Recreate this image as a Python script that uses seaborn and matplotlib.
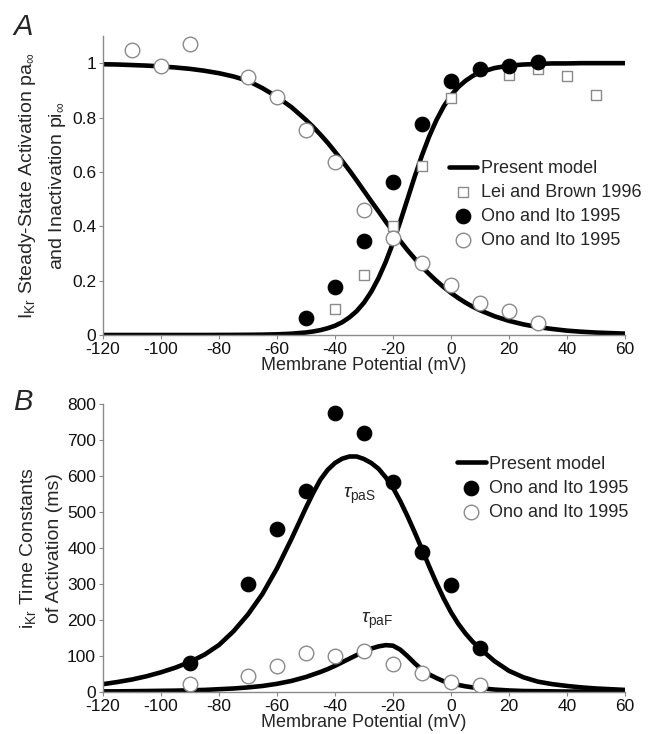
import numpy as np
import matplotlib
matplotlib.use("Agg")
import matplotlib.pyplot as plt
import seaborn as sns

# ---- model voltage grid (read at 5 mV, 2.5 mV around the steep parts) ----
v_model = [-120, -115, -110, -105, -100, -95, -90, -85, -80, -75, -70, -65, -60, -55,
           -50, -47.5, -45, -42.5, -40, -37.5, -35, -32.5, -30, -27.5, -25, -22.5, -20,
           -17.5, -15, -12.5, -10, -7.5, -5, -2.5, 0, 2.5, 5, 7.5, 10,
           15, 20, 25, 30, 35, 40, 45, 50, 55, 60]

# ---- panel A (steady state) ----
pa_inf = [0.0, 0.0, 0.0, 0.0, 0.0, 0.0, 0.0, 0.0, 0.0002, 0.0004, 0.0007, 0.0013, 0.0025, 0.0048,
          0.0093, 0.013, 0.018, 0.025, 0.034, 0.047, 0.065, 0.088, 0.119, 0.159, 0.209, 0.269,
          0.339, 0.417, 0.5, 0.583, 0.661, 0.731, 0.791, 0.841, 0.881, 0.912, 0.935, 0.953,
          0.966,
          0.982, 0.991, 0.995, 0.997, 0.999, 0.999, 1.0, 1.0, 1.0, 1.0]
pi_inf = [0.996, 0.995, 0.993, 0.991, 0.988, 0.984, 0.979, 0.972, 0.963, 0.951, 0.935, 0.908,
          0.876, 0.838,
          0.791, 0.765, 0.737, 0.707, 0.674, 0.640, 0.605, 0.568, 0.530, 0.492, 0.455, 0.417,
          0.381, 0.346, 0.312, 0.281, 0.251, 0.224, 0.199, 0.176, 0.155, 0.136, 0.119, 0.104,
          0.091,
          0.069, 0.052, 0.039, 0.029, 0.022, 0.016, 0.012, 0.009, 0.007, 0.005]

v_lei = [-40, -30, -20, -10, 0, 10, 20, 30, 40, 50]
act_lei = [0.094, 0.22, 0.40, 0.622, 0.87, 0.974, 0.956, 0.98, 0.952, 0.882]

v_ono_act = [-50, -40, -30, -20, -10, 0, 10, 20, 30]
act_ono = [0.061, 0.175, 0.347, 0.564, 0.778, 0.934, 0.977, 0.989, 1.005]

v_ono_inact = [-110, -100, -90, -70, -60, -50, -40, -30, -20, -10, 0, 10, 20, 30]
inact_ono = [1.05, 0.99, 1.07, 0.95, 0.876, 0.754, 0.636, 0.46, 0.358, 0.264, 0.184, 0.117,
             0.088, 0.043]

# ---- panel B (time constants, ms) ----
tau_slow = [21, 27, 34, 43, 54, 67, 83, 103, 130, 168, 215, 272, 343, 425,
            512, 553, 590, 617, 636, 648, 654, 654, 647, 636, 620, 596, 567, 530, 488, 443,
            396, 348, 302, 259, 221, 189, 162, 139, 120,
            85, 58, 40, 28, 21, 16, 12, 9, 7, 5]
tau_fast = [1, 1, 1.5, 2, 2.5, 3, 4, 5, 7, 9, 12, 16, 22, 30,
            41, 48, 55, 63, 72, 82, 92, 102, 112, 120, 126, 129.5, 128, 117, 99, 79, 61, 48,
            38, 29, 24, 19, 15, 12, 10,
            6, 3.5, 2, 1.5, 1, 0.5, 0.5, 0, 0, 0]

v_slow_pts = [-90, -70, -60, -50, -40, -30, -20, -10, 0, 10]
tau_slow_pts = [81, 300, 452, 558, 774, 718, 584, 389, 297, 122]

v_fast_pts = [-90, -70, -60, -50, -40, -30, -20, -10, 0, 10]
tau_fast_pts = [21, 44, 71, 108, 99, 113, 76, 51, 28, 19]

x_ticks = [-120, -100, -80, -60, -40, -20, 0, 20, 40, 60]

sns.set_theme(style="ticks")
plt.rcParams["font.family"] = ["Liberation Sans", "DejaVu Sans"]
plt.rcParams["axes.unicode_minus"] = False
plt.rcParams["mathtext.fontset"] = "custom"
plt.rcParams["mathtext.rm"] = "Liberation Sans"
plt.rcParams["mathtext.it"] = "Liberation Sans:italic"
plt.rcParams["mathtext.bf"] = "Liberation Sans:bold"

fig = plt.figure(figsize=(6.49, 7.34), dpi=100)
ax1 = fig.add_axes([0.1587, 0.5436, 0.8043, 0.4074])
ax2 = fig.add_axes([0.1587, 0.0576, 0.8043, 0.3920])

grey = "#8a8a8a"
LW = 3.3


def style_axis(ax):
    sns.despine(ax=ax)
    for s in ("left", "bottom"):
        ax.spines[s].set_color(grey)
        ax.spines[s].set_linewidth(1.0)
    ax.tick_params(axis="both", direction="out", length=3, width=0.8, color=grey,
                   labelsize=12.5, labelcolor="#111111", pad=2)
    ax.set_xlim(-120, 60)
    ax.set_xticks(x_ticks)
    ax.set_xlabel("Membrane Potential (mV)", fontsize=13, labelpad=0)


# Panel A
sns.lineplot(x=v_model, y=pa_inf, ax=ax1, color="black", lw=LW, label="Present model")
sns.lineplot(x=v_model, y=pi_inf, ax=ax1, color="black", lw=LW, legend=False)
sns.scatterplot(x=v_lei, y=act_lei, ax=ax1, marker="s", s=60, facecolor="white",
                edgecolor=grey, linewidth=1.0, zorder=3, label="Lei and Brown 1996")
sns.scatterplot(x=v_ono_act, y=act_ono, ax=ax1, marker="o", s=110, color="black",
                edgecolor="black", zorder=3, label="Ono and Ito 1995")
sns.scatterplot(x=v_ono_inact, y=inact_ono, ax=ax1, marker="o", s=110, facecolor="white",
                edgecolor=grey, linewidth=1.0, zorder=3, label="Ono and Ito 1995")
ax1.set_ylim(0, 1.1)
ax1.set_yticks([0, 0.2, 0.4, 0.6, 0.8, 1.0])
ax1.set_yticklabels(["0", "0.2", "0.4", "0.6", "0.8", "1"])
style_axis(ax1)
ax1.set_ylabel("I$_{\\mathrm{Kr}}$ Steady-State Activation pa$_{\\infty}$\n"
               "and Inactivation pi$_{\\infty}$", fontsize=14, linespacing=1.6, labelpad=3)
ax1.legend(loc="upper left", bbox_to_anchor=(0.662, 0.585), frameon=False, fontsize=13,
           handlelength=1.6, handletextpad=0.2, labelspacing=0.38, borderpad=0,
           borderaxespad=0)

# Panel B
sns.lineplot(x=v_model, y=tau_slow, ax=ax2, color="black", lw=LW, label="Present model")
sns.lineplot(x=v_model, y=tau_fast, ax=ax2, color="black", lw=LW, legend=False)
sns.scatterplot(x=v_slow_pts, y=tau_slow_pts, ax=ax2, marker="o", s=110, color="black",
                edgecolor="black", zorder=3, label="Ono and Ito 1995")
sns.scatterplot(x=v_fast_pts, y=tau_fast_pts, ax=ax2, marker="o", s=110, facecolor="white",
                edgecolor=grey, linewidth=1.0, zorder=3, label="Ono and Ito 1995")
ax2.set_ylim(0, 800)
ax2.set_yticks(range(0, 801, 100))
style_axis(ax2)
ax2.set_ylabel("i$_{\\mathrm{Kr}}$ Time Constants\nof Activation (ms)", fontsize=14,
               linespacing=1.6, labelpad=3)
ax2.text(-31.5, 545, "$\\tau_{\\mathrm{paS}}$", fontsize=14, ha="center", va="center")
ax2.text(-25.5, 198, "$\\tau_{\\mathrm{paF}}$", fontsize=14, ha="center", va="center")
ax2.legend(loc="upper left", bbox_to_anchor=(0.678, 0.82), frameon=False, fontsize=13,
           handlelength=1.6, handletextpad=0.2, labelspacing=0.38, borderpad=0,
           borderaxespad=0)

fig.text(0.02, 0.952, "A", fontsize=21, style="italic")
fig.text(0.02, 0.441, "B", fontsize=21, style="italic")

fig.savefig("out.png", dpi=100)
